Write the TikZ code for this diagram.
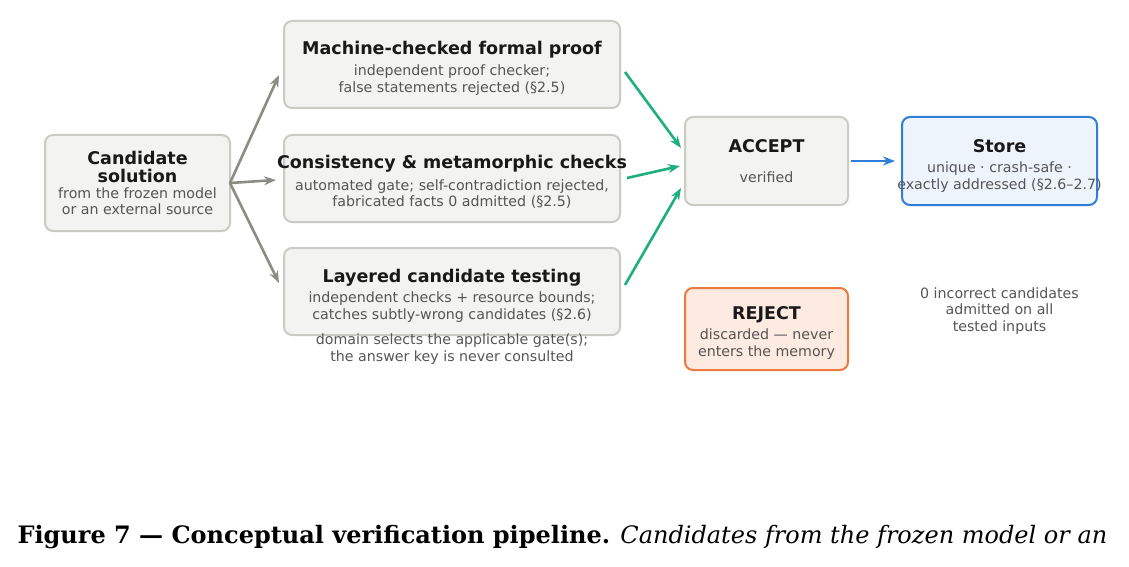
\documentclass[tikz,border=0pt]{standalone}
\usepackage{fontspec}
\setmainfont{DejaVu Sans}
\newfontfamily\capfont{DejaVu Serif}
\usetikzlibrary{arrows.meta}
\definecolor{boxfill}{HTML}{F3F3F1}
\definecolor{boxdraw}{HTML}{CBCBC6}
\definecolor{sub}{HTML}{555555}
\definecolor{garrow}{HTML}{8C8C84}
\definecolor{grn}{HTML}{1FAE80}
\definecolor{blu}{HTML}{2F7FD8}
\definecolor{bluefill}{HTML}{EDF4FC}
\definecolor{org}{HTML}{EC7A3E}
\definecolor{orgfill}{HTML}{FDEAE1}
\begin{document}
\begin{tikzpicture}[x=1pt,y=-1pt,
 box/.style={draw=boxdraw,fill=boxfill,line width=2pt,rounded corners=8pt},
 ttl/.style={font=\fontsize{17.5}{19}\selectfont\bfseries,text=black!90,align=center},
 sb/.style={font=\fontsize{14.2}{16.5}\selectfont,text=sub,align=center},
 arr/.style={-{Stealth[length=12pt,width=9pt]},line width=2.6pt}]
\useasboundingbox (0,0) rectangle (1129,567);
\node[box,minimum width=185pt,minimum height=96pt] (cand) at (137.5,183) {};
\node[ttl] (candt) at (137.5,167) {Candidate\\[-1pt]solution};
\node[sb] (cands) at (137.5,201) {from the frozen model\\or an external source};
\node[box,minimum width=336pt,minimum height=87pt] (fp) at (452,64.5) {};
\node[ttl] (fpt) at (452,50) {Machine-checked formal proof};
\node[sb] (fps) at (452,80) {independent proof checker;\\false statements rejected (§2.5)};
\node[box,minimum width=336pt,minimum height=87pt] (cc) at (452,178.5) {};
\node[ttl] (cct) at (452,164) {Consistency \& metamorphic checks};
\node[sb] (ccs) at (452,194) {automated gate; self-contradiction rejected,\\fabricated facts 0 admitted (§2.5)};
\node[box,minimum width=336pt,minimum height=87pt] (lc) at (452,291.5) {};
\node[ttl] (lct) at (452,278) {Layered candidate testing};
\node[sb] (lcs) at (452,307) {independent checks + resource bounds;\\catches subtly-wrong candidates (§2.6)};
\node[sb] (dom) at (452,349) {domain selects the applicable gate(s);\\the answer key is never consulted};
\node[box,minimum width=163pt,minimum height=88pt] (acc) at (766.5,161) {};
\node[ttl] (acct) at (766.5,146) {ACCEPT};
\node[sb] (accs) at (766.5,177) {verified};
\node[box,draw=blu,fill=bluefill,minimum width=195pt,minimum height=88pt] (st) at (999.5,161) {};
\node[ttl] (stt) at (999.5,146) {Store};
\node[sb] (sts) at (999.5,177) {unique · crash-safe ·\\exactly addressed (§2.6–2.7)};
\node[box,draw=org,fill=orgfill,minimum width=163pt,minimum height=82pt] (rej) at (766.5,329) {};
\node[ttl] (rejt) at (766.5,315) {REJECT};
\node[sb] (rejs) at (766.5,344) {discarded — never\\enters the memory};
\node[sb] (inc) at (999.5,311) {0 incorrect candidates\\admitted on all\\tested inputs};
\coordinate (c0) at (230,183);
\draw[arr,garrow] (c0) -- (279,75);
\draw[arr,garrow] (c0) -- (276,180);
\draw[arr,garrow] (c0) -- (279,283);
\draw[arr,grn] (625,72) -- (681,148);
\draw[arr,grn] (627,178) -- (680,166);
\draw[arr,grn] (625,285) -- (681,188);
\draw[arr,blu] (acc.east) ++(2,0) -- (895,161);
\node[anchor=west,font=\capfont\fontsize{24}{28}\selectfont] (cap) at (14,537) {\textbf{Figure 7 — Conceptual verification pipeline.} \textit{Candidates from the frozen model or an}};
\end{tikzpicture}
\end{document}
